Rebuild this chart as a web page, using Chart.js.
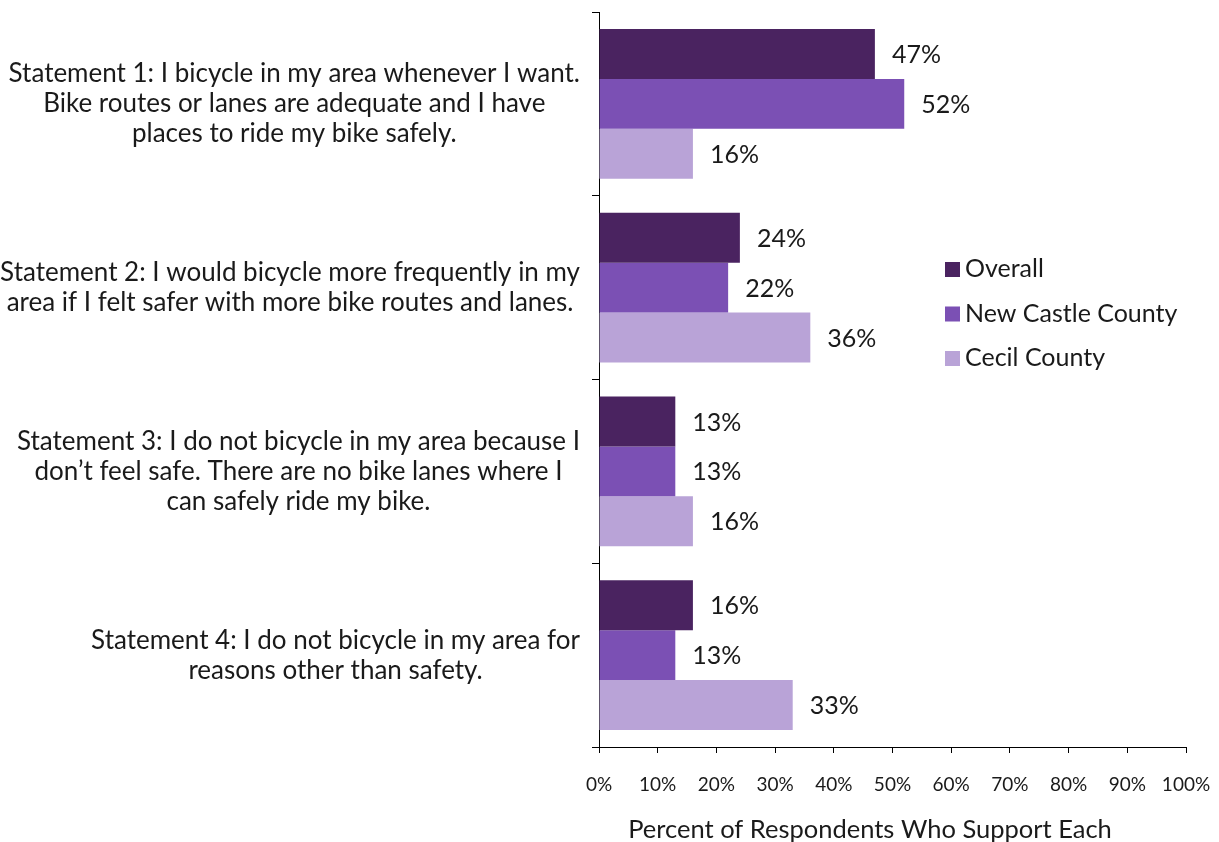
<!DOCTYPE html>
<html>
<head>
<title>Bicycle statements</title>
<style>
body { margin: 0; background: #fff; }
#wrap { width: 1219px; height: 842px; position: relative; }
</style>
</head>
<body>
<script src="https://cdn.jsdelivr.net/npm/chart.js"></script>
<div id="wrap"><canvas id="myChart"></canvas></div>
<script>
// statements (multi-line, like the original wrapped text)
var statements = [
    ['Statement 1: I bicycle in my area whenever I want.', 'Bike routes or lanes are adequate and I have', 'places to ride my bike safely.'],
    ['Statement 2: I would bicycle more frequently in my', 'area if I felt safer with more bike routes and lanes.'],
    ['Statement 3: I do not bicycle in my area because I', 'don\u2019t feel safe. There are no bike lanes where I', 'can safely ride my bike.'],
    ['Statement 4: I do not bicycle in my area for', 'reasons other than safety.']
]
var overall = [47, 24, 13, 16]
var newCastle = [52, 22, 13, 13]
var cecil = [16, 36, 16, 33]
var seriesNames = ['Overall', 'New Castle County', 'Cecil County']
var seriesColors = ['#4A2360', '#7B50B4', '#B9A3D7']
var xTitle = 'Percent of Respondents Who Support Each'

var FONT = 'Lato, "Open Sans", sans-serif'
var TXT = '#1a1a1a'

// value labels to the right of each bar
const barLabels = {
    id: 'barLabels',
    afterDatasetsDraw(chart) {
        const c = chart.ctx
        c.save()
        c.font = '25px ' + FONT
        c.fillStyle = TXT
        c.textAlign = 'left'
        c.textBaseline = 'middle'
        chart.data.datasets.forEach((ds, i) => {
            chart.getDatasetMeta(i).data.forEach((bar, j) => {
                c.fillText(ds.data[j] + '%', bar.x + 17, bar.y + 1)
            })
        })
        c.restore()
    }
}

// category labels: each block right aligned, lines centered in the block
// plus the x axis title (sits a bit left of the plot centre, as in the original)
const statementLabels = {
    id: 'statementLabels',
    afterDraw(chart) {
        const c = chart.ctx
        const y = chart.scales.y
        c.save()
        c.font = '26px ' + FONT
        c.fillStyle = TXT
        c.textAlign = 'center'
        c.textBaseline = 'middle'
        const lh = 30
        chart.data.labels.forEach((lines, i) => {
            const w = Math.max(...lines.map(l => c.measureText(l).width))
            const cx = 580 - w / 2
            const cy = y.getPixelForTick(i)
            lines.forEach((l, k) => {
                c.fillText(l, cx, cy + (k - (lines.length - 1) / 2) * lh)
            })
        })
        c.font = '25.5px ' + FONT
        c.fillText(xTitle, 870, 830)
        c.restore()
    }
}

// legend inside the plot, right of the bars
const sideLegend = {
    id: 'sideLegend',
    afterDraw(chart) {
        const c = chart.ctx
        c.save()
        c.font = '25px ' + FONT
        c.textBaseline = 'middle'
        c.textAlign = 'left'
        chart.data.datasets.forEach((ds, i) => {
            const yy = 269 + i * 44.5
            c.fillStyle = ds.backgroundColor
            c.fillRect(945, yy - 7, 15, 15)
            c.fillStyle = TXT
            c.fillText(ds.label, 965, yy)
        })
        c.restore()
    }
}

const ctx = document.getElementById('myChart').getContext('2d')
const myChart = new Chart(ctx, {
    type: 'bar',
    data: {
        labels: statements,
        datasets: [
            { label: seriesNames[0], data: overall, backgroundColor: seriesColors[0] },
            { label: seriesNames[1], data: newCastle, backgroundColor: seriesColors[1] },
            { label: seriesNames[2], data: cecil, backgroundColor: seriesColors[2] }
        ]
    },
    options: {
        indexAxis: 'y',
        responsive: true,
        maintainAspectRatio: false,
        animation: false,
        categoryPercentage: 0.815,
        barPercentage: 1.0,
        layout: { padding: { top: 12, right: 33, bottom: 0, left: 0 } },
        plugins: {
            legend: { display: false },
            tooltip: { enabled: false }
        },
        scales: {
            x: {
                min: 0,
                max: 100,
                ticks: {
                    stepSize: 10,
                    callback: v => v + '%',
                    font: { family: FONT, size: 19 },
                    color: TXT,
                    padding: 20,
                    maxRotation: 0
                },
                grid: { drawOnChartArea: false, tickLength: 6, color: '#000' },
                border: { color: '#000', width: 1 },
                afterFit(scale) {
                    scale.height = 842 - 747
                    scale.paddingRight = 0
                    scale.paddingLeft = 0
                }
            },
            y: {
                ticks: { display: false },
                grid: { offset: true, drawOnChartArea: false, tickLength: 7, color: '#000' },
                border: { color: '#000', width: 1 },
                afterFit(scale) { scale.width = 599 }
            }
        }
    },
    plugins: [barLabels, statementLabels, sideLegend]
})
</script>
</body>
</html>
